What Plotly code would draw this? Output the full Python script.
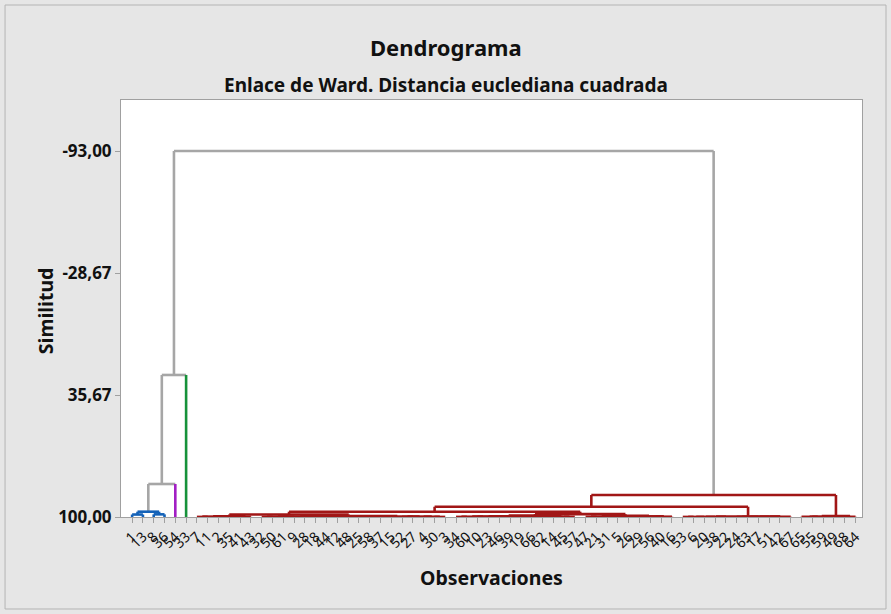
import plotly.graph_objects as go

# ---------------- data ----------------
# observation labels in dendrogram leaf order (left -> right)
obs_labels = ["1", "13", "8", "36", "54", "33",
              "7", "11", "2", "35", "41", "43", "32", "50", "61", "9",
              "28", "18", "44", "12", "48", "25", "58", "37", "15", "52",
              "27", "4", "30", "3", "34", "60", "10", "23", "46", "39",
              "19", "66", "62", "14", "45", "57", "47", "21", "31", "5",
              "26", "29", "56", "40", "16", "53", "6", "20", "38", "22",
              "24", "63", "17", "51", "42", "67", "65", "55", "59", "49",
              "68", "64"]

y_tick_vals = [100.0, 35.67, -28.67, -93.0]
y_tick_text = ["100,00", "35,67", "-28,67", "-93,00"]

# merges: (similarity level, left child, right child); ints are leaf positions
blue_cluster = (97.2, (98.7, 0, 1), (98.6, 2, 3))

red_lll = (98.7,
           (99.6, (99.8, (99.95, 6, 7), (99.9, 8, 9)), (99.9, 10, 11)),
           (99.5,
            (99.75, (99.85, (99.95, 12, 13), (99.92, 14, 15)),
             (99.8, (99.93, 16, 17), (99.88, 18, (99.96, 19, 20)))),
            (99.7, (99.82, (99.94, 21, 22), (99.9, 23, 24)),
             (99.78, (99.95, 25, 26), (99.86, 27, (99.97, 28, 29))))))
red_llr = (98.5,
           (99.3,
            (99.6,
             (99.75, (99.85, (99.95, 30, 31), (99.9, 32, 33)),
              (99.93, 34, 35)),
             (99.88, 36, (99.95, 37, 38))),
            (99.85, 39, (99.94, 40, 41))),
           (99.4, (99.8, (99.92, 42, 43), (99.95, 44, 45)),
            (99.65, (99.9, 46, 47), (99.85, (99.96, 48, 49), 50))))
red_lr = (99.8,
          (99.9, (99.93, (99.95, (99.97, 51, 52), 53), 54), 55),
          (99.88, (99.9, (99.92, (99.94, (99.96, 56, 57), 58), 59), 60), 61))
red_rr = (99.5, (99.85, (99.9, 62, (99.95, 63, 64)), 65), (99.9, 66, 67))
red_cluster = (88.4, (94.6, (97.2, red_lll, red_llr), red_lr), red_rr)

top_tree = (-93.0, (25.1, (82.6, blue_cluster, 4), 5), red_cluster)

# colours
COL_GRAY = "#a6a6a6"
COL_BLUE = "#1462b8"
COL_PURPLE = "#a21fc4"
COL_GREEN = "#17923a"
COL_RED = "#a11616"
leaf_cluster_colour = {4: COL_PURPLE, 5: COL_GREEN}

# ---------------- build segments ----------------
segs = {}


def add(col, xs, ys):
    d = segs.setdefault(col, ([], []))
    d[0].extend(xs + [None])
    d[1].extend(ys + [None])


def colour_of(node, parent_colour):
    if node is blue_cluster:
        return COL_BLUE
    if node is red_cluster:
        return COL_RED
    return parent_colour


def walk(node, colour):
    """returns (x, y) of the node; draws the U-links"""
    if isinstance(node, int):
        return float(node), 100.0
    h, a, b = node
    xa, ya = walk(a, colour_of(a, colour))
    xb, yb = walk(b, colour_of(b, colour))
    leg_a = leaf_cluster_colour.get(a, colour) if isinstance(a, int) else colour
    leg_b = leaf_cluster_colour.get(b, colour) if isinstance(b, int) else colour
    add(leg_a, [xa, xa], [ya, h])
    add(leg_b, [xb, xb], [yb, h])
    add(colour, [xa, xb], [h, h])
    return (xa + xb) / 2.0, h


walk(top_tree, COL_GRAY)

fig = go.Figure()
for col in [COL_GRAY, COL_BLUE, COL_PURPLE, COL_GREEN, COL_RED]:
    if col in segs:
        xs, ys = segs[col]
        fig.add_trace(go.Scatter(x=xs, y=ys, mode="lines",
                                 line=dict(color=col, width=2.6),
                                 hoverinfo="skip", showlegend=False))

FONT = "Noto Sans"
n = len(obs_labels)
fig.update_layout(
    width=891, height=614,
    margin=dict(l=121, r=29, t=100, b=97),
    paper_bgcolor="#e6e6e6", plot_bgcolor="white",
    font=dict(family=FONT, color="#222222"),
    showlegend=False,
)
fig.update_xaxes(
    range=[-1.03, n - 0.4], tickmode="array",
    tickvals=list(range(n)), ticktext=obs_labels, tickangle=-45,
    tickfont=dict(size=14, family=FONT, color="#111111"),
    ticks="outside", ticklen=5, tickcolor="#a0a0a0",
    showline=True, linecolor="#a0a0a0", linewidth=1, mirror=True,
    showgrid=False, zeroline=False,
)
fig.update_yaxes(
    range=[100.0, -119.9], tickmode="array",
    tickvals=y_tick_vals, ticktext=y_tick_text,
    tickfont=dict(size=17, family=FONT, color="#111111", weight="bold"),
    ticks="outside", ticklen=5, tickcolor="#a0a0a0",
    showline=True, linecolor="#a0a0a0", linewidth=1, mirror=True,
    showgrid=False, zeroline=False,
)

fig.add_annotation(text="<b>Dendrograma</b>", xref="paper", yref="paper",
                   x=0.438, y=1.127, xanchor="center", yanchor="middle",
                   showarrow=False,
                   font=dict(size=22, family=FONT, color="#111111"))
fig.add_annotation(text="<b>Enlace de Ward. Distancia euclediana cuadrada</b>",
                   xref="paper", yref="paper", x=0.438, y=1.036,
                   xanchor="center", yanchor="middle", showarrow=False,
                   font=dict(size=19, family=FONT, color="#111111"))
fig.add_annotation(text="<b>Observaciones</b>", xref="paper", yref="paper",
                   x=0.5, y=-0.146, xanchor="center", yanchor="middle",
                   showarrow=False,
                   font=dict(size=19.5, family=FONT, color="#111111"))
fig.add_annotation(text="<b>Similitud</b>", xref="paper", yref="paper",
                   x=-0.1026, y=0.496, xanchor="center", yanchor="middle",
                   showarrow=False, textangle=-90,
                   font=dict(size=19.5, family=FONT, color="#111111"))

fig.add_shape(type="rect", xref="paper", yref="paper",
              x0=-0.1565, x1=1.0324, y0=-0.2206, y1=1.2278,
              line=dict(color="#b4b4b4", width=1), layer="below")

fig.write_html("out.html",
               config={"displayModeBar": False},
               post_script="document.body.style.margin='0';"
                           "document.body.style.overflow='hidden';")
